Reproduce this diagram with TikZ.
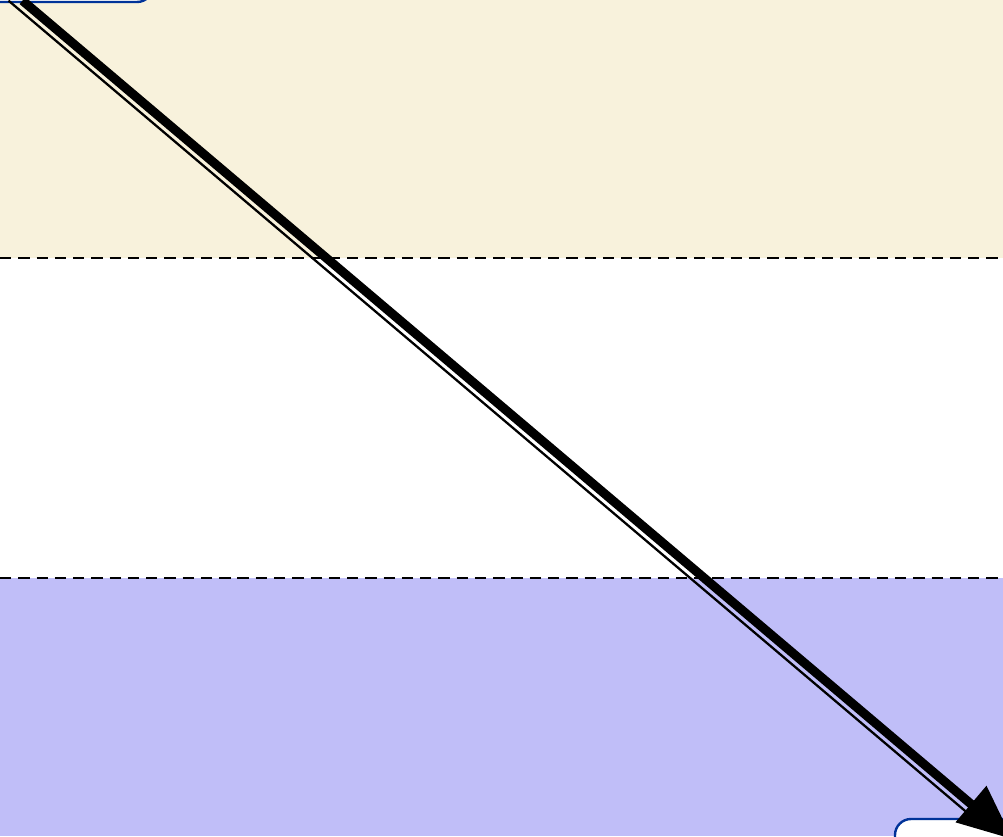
\documentclass[tikz,border=0pt]{standalone}
\usepackage{tikz}
\usetikzlibrary{arrows.meta}
\definecolor{LaneBeige}{RGB}{248,242,220}
\definecolor{LaneBlue}{RGB}{192,190,248}
\definecolor{NodeNavy}{RGB}{0,51,153}

\begin{document}
\begin{tikzpicture}[x=0.75pt,y=-0.75pt,
                box/.style={rectangle,rounded corners=12pt,draw=NodeNavy,line width=1.8pt,fill=white,inner sep=0pt},
                sep/.style={black,line width=1.9pt,dash pattern=on 8.5pt off 5.2pt},
                thinlink/.style={black,line width=1.7pt,shorten <=-3pt},
                fatlink/.style={black,line width=6.8pt,shorten <=-3pt,shorten >=-25pt,-{Triangle[length=41pt,width=34pt]}}
            ]
                \useasboundingbox (0,0) rectangle (1003,836);
                \clip (0,0) rectangle (1003,836);
                % Lanes: top=beige, middle=white, bottom=blue
                \fill[LaneBeige] (0,0) rectangle (1003,258);
                \fill[LaneBlue] (0,578) rectangle (1003,836);
                \draw[sep] (0,258) -- (1003,258);
                \draw[sep] (0,578) -- (1003,578);
                % Boxes, mostly cut off by the page
                \node[box,minimum width=267pt,minimum height=63pt] (src) at (-25,-40) {};
                \node[box,minimum width=213pt,minimum height=61.5pt] (dst) at (1037,860) {};
                % Links: thin one beside the fat arrow
                \draw[thinlink,transform canvas={xshift=-10.5pt}] (src) -- (dst);
                \draw[fatlink] (src) -- (dst);
            \end{tikzpicture}
\end{document}
